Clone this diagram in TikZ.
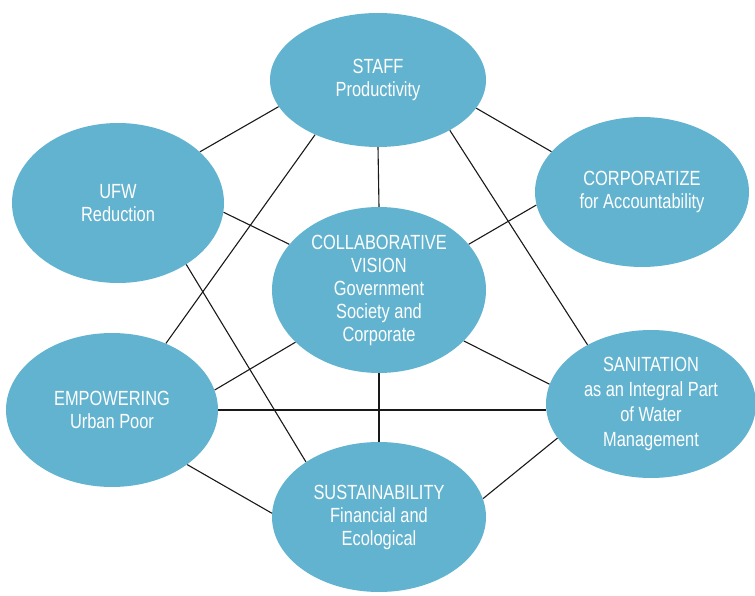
\documentclass[tikz,border=0pt]{standalone}
\usepackage{fontspec}
\setmainfont{Liberation Sans}[FakeStretch=0.8]
\usetikzlibrary{shapes.geometric,backgrounds}
\definecolor{bubble}{HTML}{62B3CF}

\tikzset{
  goal/.style={ellipse, fill=bubble, text=white, inner sep=0pt, align=center,
    font=\fontsize{20.5}{23}\selectfont},
  link/.style={line width=1.1pt, black!90}
}

\begin{document}
\begin{tikzpicture}[x=1pt,y=1pt]
          \useasboundingbox (0,0) rectangle (755,-596);

          % the seven goals
          \node[goal, minimum width=216, minimum height=134] (staff) at (378,-80) {STAFF\\Productivity};
          \node[goal, minimum width=212, minimum height=160] (ufw) at (118,-203) {UFW\\Reduction};
          \node[goal, minimum width=214, minimum height=150] (corp) at (642,-192) {CORPORATIZE\\for Accountability};
          \node[goal, minimum width=214, minimum height=166] (vision) at (379,-290) {COLLABORATIVE\\VISION\\Government\\Society and\\Corporate};
          \node[goal, minimum width=212, minimum height=154] (empower) at (112,-410) {EMPOWERING\\Urban Poor};
          \node[goal, minimum width=210, minimum height=148, font=\fontsize{20.5}{25}\selectfont] (sanit) at (651,-404) {SANITATION\\as an Integral Part\\of Water\\Management};
          \node[goal, minimum width=214, minimum height=150] (sustain) at (379,-517) {SUSTAINABILITY\\Financial and\\Ecological};

          % links behind the goals
          \begin{pgfonlayer}{background}
            \draw[link] (staff.195.5) -- (ufw.32.5);
            \draw[link] (staff.344) -- (corp.156.5);
            \draw[link] (staff.south) -- (vision.north);
            \draw[link] (staff.221.9) -- (empower.51.5);
            \draw[link] (staff.325.3) -- (sanit.137.6);

            \draw[link] (ufw.355.8) -- (vision.153.2);
            \draw[link] (ufw.318.5) -- (sustain.143.7);
            \draw[link] (corp.187) -- (vision.27.3);

            \draw[link] (vision.212.6) -- (empower.11.8);
            \draw[link] (vision.329.8) -- (sanit.169.5);
            \draw[link] (vision.south) -- (sustain.north);

            \draw[link] (empower.east) -- (empower.east -| sanit.west);
            \draw[link] (empower.324.8) -- (sustain.178.9);
            \draw[link] (sanit.200.3) -- (sustain.10.4);
          \end{pgfonlayer}
\end{tikzpicture}
\end{document}
